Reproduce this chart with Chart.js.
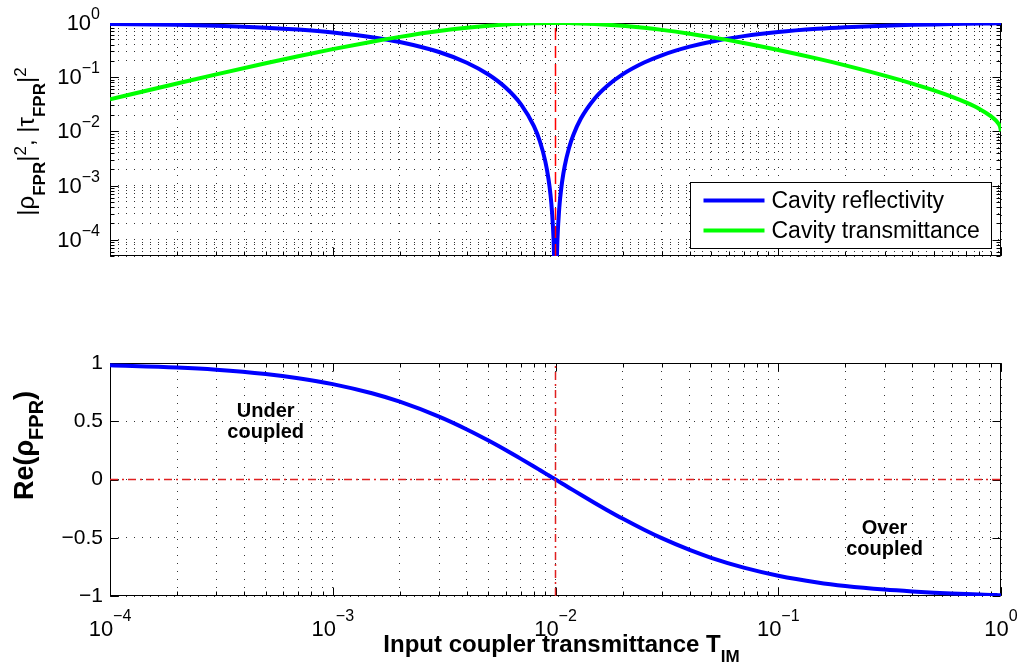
<!DOCTYPE html>
<html>
<head>
<meta charset="utf-8">
<title>Cavity reflectivity and transmittance</title>
<script src="https://cdn.jsdelivr.net/npm/chart.js@4.4.1/dist/chart.umd.min.js"></script>
<style>
  html, body { margin: 0; padding: 0; background: #fff; }
  #wrap { position: relative; width: 1019px; height: 668px; }
  canvas { position: absolute; left: 0; }
  #topChart { top: 0; }
  #botChart { top: 300px; }
</style>
</head>
<body>
<div id="wrap">
  <canvas id="topChart" width="1019" height="300"></canvas>
  <canvas id="botChart" width="1019" height="368"></canvas>
</div>
<script>
// --- data ---
const transmittanceIM = [
  1e-4, 2e-4, 3e-4, 5e-4, 7e-4, 1e-3, 1.5e-3, 2e-3, 3e-3, 4e-3, 5e-3, 6e-3, 7e-3, 8e-3,
  8.5e-3, 9e-3, 9.3e-3, 9.5e-3, 9.65e-3, 9.8e-3, 9.9e-3, 1e-2, 1.01e-2, 1.02e-2, 1.04e-2,
  1.05e-2, 1.07e-2, 1.1e-2, 1.15e-2, 1.2e-2, 1.3e-2, 1.5e-2, 1.7e-2, 2e-2, 2.5e-2, 3e-2,
  4e-2, 5e-2, 7e-2, 0.1, 0.15, 0.2, 0.3, 0.4, 0.5, 0.6, 0.7, 0.8, 0.9, 0.95, 0.97, 0.99, 1.0
];
const cavityReflectivity = [
  0.96099, 0.92348, 0.88742, 0.81939, 0.75650, 0.67065, 0.54763, 0.44593, 0.29129, 0.18470,
  0.11186, 0.06300, 0.03140, 0.012457, 0.006632, 0.0027964, 0.0013278, 0.0006636, 0.00032045,
  0.00010306, 0.0000255, 0, 0.000025, 0.000099, 0.0003883, 0.0006008, 0.001155, 0.0022917,
  0.004921, 0.0083558, 0.017218, 0.040486, 0.068064, 0.11261, 0.18634, 0.25381, 0.36587,
  0.45200, 0.57258, 0.68194, 0.78050, 0.83488, 0.89312, 0.92391, 0.94311, 0.95634, 0.96617,
  0.97403, 0.98084, 0.98428, 0.98583, 0.98780, 0.99000
];
const cavityTransmittance = [
  0.03901, 0.07652, 0.11258, 0.18061, 0.24350, 0.32935, 0.45237, 0.55407, 0.70871, 0.81530,
  0.88814, 0.93700, 0.96860, 0.98754, 0.99337, 0.99720, 0.99867, 0.99934, 0.99968, 0.99990,
  0.99997, 1.00000, 0.99998, 0.99990, 0.99961, 0.99940, 0.99885, 0.99771, 0.99508, 0.99164,
  0.98278, 0.95951, 0.93194, 0.88739, 0.81366, 0.74619, 0.63413, 0.54800, 0.42742, 0.31806,
  0.21950, 0.16512, 0.10688, 0.07609, 0.05689, 0.04366, 0.03383, 0.02597, 0.01916, 0.01572,
  0.01417, 0.01220, 0.01000
];
const reRho = [
  0.98030, 0.96098, 0.94203, 0.90520, 0.86977, 0.81893, 0.74002, 0.66778, 0.53971, 0.42977,
  0.33445, 0.25100, 0.17720, 0.11161, 0.08144, 0.05288, 0.03644, 0.02576, 0.01790, 0.01015,
  0.00505, 0, -0.00500, -0.00995, -0.01971, -0.02451, -0.03399, -0.04787, -0.07015, -0.09141,
  -0.13122, -0.20121, -0.26089, -0.33558, -0.43167, -0.50380, -0.60487, -0.67231, -0.75669,
  -0.82580, -0.88346, -0.91372, -0.94505, -0.96120, -0.97114, -0.97793, -0.98294, -0.98693,
  -0.99037, -0.99211, -0.99289, -0.99388, -0.99499
];

// critical coupling marker and zero line
const criticalT = 0.01;
const zeroLevel = 0;

// axes
const xRange = [1e-4, 1];
const topYRange = [5e-5, 1];
const botYRange = [-1, 1];
const xDecadeExps = [-4, -3, -2, -1, 0];
const topYDecadeExps = [-4, -3, -2, -1, 0];
const botYTicks = [-1, -0.5, 0, 0.5, 1];
const botYTickLabels = ['\u22121', '\u22120.5', '0', '0.5', '1'];

const legendLabels = ['Cavity reflectivity', 'Cavity transmittance'];
const regionNotes = [
  { lines: ['Under', 'coupled'], x: 5e-4, y: 0.5 },
  { lines: ['Over', 'coupled'], x: 0.3, y: -0.5 }
];

const FONT = '"Liberation Sans", Arial, Helvetica, sans-serif';

// --- helpers ---
const pts = (xs, ys) => xs.map((x, i) => ({ x: x, y: ys[i] }));

function isDecade(v) {
  const e = Math.log10(v);
  return Math.abs(e - Math.round(e)) < 1e-9;
}

// log grid: 1..9 x 10^e for each decade, limited to the range
function logGridTicks(lo, hi) {
  const out = [];
  const e0 = Math.floor(Math.log10(lo)), e1 = Math.ceil(Math.log10(hi));
  for (let e = e0; e <= e1; e++) {
    for (let k = 1; k <= 9; k++) {
      const v = k * Math.pow(10, e);
      if (v >= lo * 0.9999 && v <= hi * 1.0001) out.push({ value: v, major: k === 1 });
    }
  }
  return out;
}

// text with sub/superscripts, centred on (cx, cy) baseline, optional rotation
function richText(ctx, parts, cx, cy, rot, big, small, bold, subDy, supDy) {
  ctx.save();
  ctx.translate(cx, cy);
  ctx.rotate(rot);
  ctx.textAlign = 'left';
  ctx.textBaseline = 'alphabetic';
  ctx.fillStyle = '#000';
  let w = 0;
  const segs = parts.map(([s, kind]) => {
    const size = kind === 'n' ? big : small;
    const font = (bold || kind === 'b' ? 'bold ' : '') + size + 'px ' + FONT;
    ctx.font = font;
    const seg = { s: s, font: font, x: w, dy: kind === 'b' ? subDy : (kind === 'p' ? -supDy : 0) };
    w += ctx.measureText(s).width;
    return seg;
  });
  segs.forEach(g => {
    ctx.font = g.font;
    ctx.fillText(g.s, g.x - w / 2, g.dy);
  });
  ctx.restore();
}

function powLabel(ctx, e, x, y, align, supRise) {
  const base = '10';
  const sup = (e < 0 ? '\u2212' : '') + Math.abs(e);
  ctx.font = '22px ' + FONT;
  const wb = ctx.measureText(base).width;
  ctx.font = '16px ' + FONT;
  const ws = ctx.measureText(sup).width;
  const x0 = align === 'right' ? x - wb - ws : x - (wb + ws) / 2;
  ctx.font = '22px ' + FONT;
  ctx.fillText(base, x0, y);
  ctx.font = '16px ' + FONT;
  ctx.fillText(sup, x0 + wb, y - supRise);
}

// --- plugins ---
const frame = {
  id: 'frame',
  beforeDatasetsDraw(chart) {
    const { ctx, chartArea: a, scales } = chart;
    const L = Math.round(a.left) + 0.5, R = Math.round(a.right) - 0.5;
    const T = Math.round(a.top) + 0.5, B = Math.round(a.bottom) - 0.5;
    const len = (sc, v) => (sc.type === 'logarithmic' && !isDecade(v)) ? 4 : 8;
    ctx.save();
    ctx.strokeStyle = '#000';
    ctx.lineWidth = 1;
    ctx.beginPath();
    scales.x.ticks.forEach(t => {
      const p = Math.round(scales.x.getPixelForValue(t.value)) + 0.5;
      const l = len(scales.x, t.value);
      ctx.moveTo(p, B); ctx.lineTo(p, B - l);
      ctx.moveTo(p, T); ctx.lineTo(p, T + l);
    });
    scales.y.ticks.forEach(t => {
      const p = Math.round(scales.y.getPixelForValue(t.value)) + 0.5;
      const l = len(scales.y, t.value);
      ctx.moveTo(L, p); ctx.lineTo(L + l, p);
      ctx.moveTo(R, p); ctx.lineTo(R - l, p);
    });
    ctx.stroke();
    ctx.strokeRect(L, T, R - L, B - T);
    ctx.restore();
  }
};

const legendBox = {
  id: 'legendBox',
  afterDraw(chart) {
    const items = chart.data.datasets.filter(d => d.label);
    if (!items.length) return;
    const { ctx, chartArea: a } = chart;
    const bw = 301, bh = 66;
    const bx = Math.round(a.right) - 10 - bw + 0.5, by = Math.round(a.bottom) - 8 - bh + 0.5;
    ctx.save();
    ctx.fillStyle = '#fff';
    ctx.fillRect(bx, by, bw, bh);
    ctx.strokeStyle = '#000';
    ctx.lineWidth = 1;
    ctx.strokeRect(bx, by, bw, bh);
    ctx.font = '23px ' + FONT;
    ctx.textBaseline = 'middle';
    ctx.textAlign = 'left';
    items.forEach((d, i) => {
      const y = by + 18 + i * 30;
      ctx.strokeStyle = d.borderColor;
      ctx.lineWidth = 4;
      ctx.beginPath();
      ctx.moveTo(bx + 13, y);
      ctx.lineTo(bx + 74, y);
      ctx.stroke();
      ctx.fillStyle = '#000';
      ctx.fillText(d.label, bx + 81, y + 1);
    });
    ctx.restore();
  }
};

const topLabels = {
  id: 'topLabels',
  afterDraw(chart) {
    const { ctx, chartArea: a, scales } = chart;
    ctx.save();
    ctx.fillStyle = '#000';
    ctx.textAlign = 'left';
    ctx.textBaseline = 'alphabetic';
    topYDecadeExps.forEach(e => {
      const p = scales.y.getPixelForValue(Math.pow(10, e));
      powLabel(ctx, e, a.left - 10, p + 7, 'right', 11);
    });
    ctx.restore();
    richText(ctx, [['|\u03C1', 'n'], ['FPR', 'b'], ['|', 'n'], ['2', 'p'], [', |\u03C4', 'n'],
      ['FPR', 'b'], ['|', 'n'], ['2', 'p']], 34, (a.top + a.bottom) / 2 + 2, -Math.PI / 2,
      24, 17, false, 11, 8);
  }
};

const botLabels = {
  id: 'botLabels',
  afterDatasetsDraw(chart) {
    const { ctx, scales } = chart;
    ctx.save();
    ctx.fillStyle = '#000';
    ctx.font = 'bold 20px ' + FONT;
    ctx.textAlign = 'center';
    ctx.textBaseline = 'alphabetic';
    regionNotes.forEach(n => {
      const px = scales.x.getPixelForValue(n.x);
      const py = scales.y.getPixelForValue(n.y);
      ctx.fillText(n.lines[0], px, py - 4);
      ctx.fillText(n.lines[1], px, py + 17);
    });
    ctx.restore();
  },
  afterDraw(chart) {
    const { ctx, chartArea: a, scales } = chart;
    ctx.save();
    ctx.fillStyle = '#000';
    ctx.textAlign = 'left';
    ctx.textBaseline = 'alphabetic';
    xDecadeExps.forEach(e => {
      const p = scales.x.getPixelForValue(Math.pow(10, e));
      powLabel(ctx, e, p, a.bottom + 40, 'center', 15);
    });
    ctx.restore();
    richText(ctx, [['Input coupler transmittance T', 'n'], ['IM', 'b']],
      (a.left + a.right) / 2 + 6, a.bottom + 56, 0, 24, 17, true, 10, 0);
    richText(ctx, [['Re(\u03C1', 'n'], ['FPR', 'b'], [')', 'n']],
      33, (a.top + a.bottom) / 2 - 34, -Math.PI / 2, 27, 20, true, 10, 0);
  }
};

const gridStyle = { color: 'rgba(0,0,0,0.8)', lineWidth: 1, drawTicks: false };
const gridBorder = { display: false, dash: [1, 7] };
const curveStyle = { borderWidth: 4, cubicInterpolationMode: 'monotone' };

Chart.defaults.font.family = FONT;
Chart.defaults.color = '#000';

// --- top: |rho|^2 and |tau|^2 ---
new Chart(document.getElementById('topChart'), {
  type: 'line',
  data: {
    datasets: [
      Object.assign({ label: legendLabels[0], data: pts(transmittanceIM, cavityReflectivity),
        borderColor: '#0000ff', order: 3 }, curveStyle),
      Object.assign({ label: legendLabels[1], data: pts(transmittanceIM, cavityTransmittance),
        borderColor: '#00ff00', order: 2 }, curveStyle),
      { data: [{ x: criticalT, y: topYRange[0] }, { x: criticalT, y: topYRange[1] }],
        borderColor: '#ff0000', borderWidth: 1.5, borderDash: [12, 6], order: 1 }
    ]
  },
  options: {
    responsive: false,
    animation: false,
    events: [],
    devicePixelRatio: 1,
    layout: { padding: { top: 23, right: 18, left: 0, bottom: 0 } },
    elements: { point: { radius: 0 }, line: { tension: 0, borderJoinStyle: 'round' } },
    plugins: { legend: { display: false }, tooltip: { enabled: false } },
    scales: {
      x: {
        type: 'logarithmic', min: xRange[0], max: xRange[1],
        afterBuildTicks: s => { s.ticks = logGridTicks(xRange[0], xRange[1]); },
        afterFit: s => { s.height = 44; },
        ticks: { display: false, autoSkip: false },
        grid: gridStyle, border: gridBorder
      },
      y: {
        type: 'logarithmic', min: topYRange[0], max: topYRange[1],
        afterBuildTicks: s => { s.ticks = logGridTicks(topYRange[0], topYRange[1]); },
        afterFit: s => { s.width = 110; },
        ticks: { display: false, autoSkip: false },
        grid: gridStyle, border: gridBorder
      }
    }
  },
  plugins: [frame, topLabels, legendBox]
});

// --- bottom: Re(rho) ---
new Chart(document.getElementById('botChart'), {
  type: 'line',
  data: {
    datasets: [
      Object.assign({ data: pts(transmittanceIM, reRho), borderColor: '#0000ff', order: 3 }, curveStyle),
      { data: [{ x: criticalT, y: botYRange[0] }, { x: criticalT, y: botYRange[1] }],
        borderColor: '#e02020', borderWidth: 1.5, borderDash: [8, 4, 2, 4], order: 1 },
      { data: [{ x: xRange[0], y: zeroLevel }, { x: xRange[1], y: zeroLevel }],
        borderColor: '#e02020', borderWidth: 1.5, borderDash: [8, 4, 2, 4], order: 2 }
    ]
  },
  options: {
    responsive: false,
    animation: false,
    events: [],
    devicePixelRatio: 1,
    layout: { padding: { top: 63, right: 18, left: 0, bottom: 0 } },
    elements: { point: { radius: 0 }, line: { tension: 0, borderJoinStyle: 'round' } },
    plugins: { legend: { display: false }, tooltip: { enabled: false } },
    scales: {
      x: {
        type: 'logarithmic', min: xRange[0], max: xRange[1],
        afterBuildTicks: s => { s.ticks = logGridTicks(xRange[0], xRange[1]); },
        afterFit: s => { s.height = 72; },
        ticks: { display: false, autoSkip: false },
        grid: gridStyle, border: gridBorder
      },
      y: {
        type: 'linear', min: botYRange[0], max: botYRange[1],
        afterBuildTicks: s => { s.ticks = botYTicks.map(v => ({ value: v })); },
        afterFit: s => { s.width = 110; },
        ticks: {
          autoSkip: false, padding: 7, color: '#000',
          font: { size: 21, family: FONT },
          callback: (v, i) => botYTickLabels[i]
        },
        grid: gridStyle, border: gridBorder
      }
    }
  },
  plugins: [frame, botLabels]
});
</script>
</body>
</html>
